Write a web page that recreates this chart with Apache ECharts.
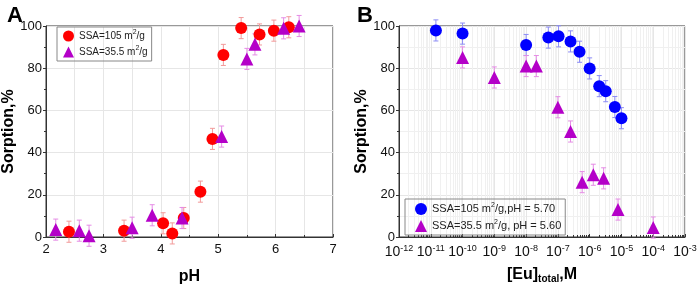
<!DOCTYPE html>
<html>
<head>
<meta charset="utf-8">
<script src="https://cdn.jsdelivr.net/npm/echarts@6/dist/echarts.min.js"></script>
<style>
  html, body { margin: 0; padding: 0; background: #fff; }
  #chart { width: 699px; height: 287px; }
</style>
</head>
<body>
<div id="chart"></div>
<script>
// panel A: sorption vs pH
var phRed = [2.40, 3.36, 4.04, 4.20, 4.40, 4.69, 4.90, 5.09, 5.40, 5.72, 5.97, 6.23];
var sorpRed = [2.5, 3, 6.5, 1.7, 9, 21.5, 46.5, 86.3, 99, 96, 97.8, 99.4];
var phPurple = [2.17, 2.58, 2.75, 3.50, 3.85, 4.37, 5.06, 5.50, 5.64, 6.14, 6.41];
var sorpPurple = [3.5, 3, 0.6, 4.4, 10.3, 9, 47.6, 84.4, 91.3, 98.9, 100];

// panel B: sorption vs [Eu]total
var euBlue = [1.45e-11, 1e-10, 1e-8, 5e-8, 1.05e-7, 2.5e-7, 4.8e-7, 1e-6, 2e-6, 3.2e-6, 6.2e-6, 1e-5];
var sorpBlue = [97.9, 96.4, 91, 94.5, 95.1, 92.7, 87.8, 79.9, 71.5, 69.1, 61.6, 56.3];
var euPurple = [1e-10, 1e-9, 1e-8, 2.1e-8, 1e-7, 2.5e-7, 5.8e-7, 1.3e-6, 2.75e-6, 7.8e-6, 1e-4];
var sorpPurpleB = [85.1, 75.6, 81, 81, 61.5, 50, 26, 29.5, 27.8, 13, 4.5];

var errSize = 5;

var myChart = echarts.init(document.getElementById('chart'));

function pairs(xs, ys) {
  return xs.map(function (x, i) { return [x, ys[i]]; });
}

// error bars drawn behind the markers
function errBars(name, xIdx, xs, ys, color) {
  return {
    name: name + '_err',
    type: 'custom',
    xAxisIndex: xIdx,
    yAxisIndex: xIdx,
    z: 1,
    silent: true,
    data: xs.map(function (x, i) { return [x, ys[i] - errSize, ys[i] + errSize]; }),
    renderItem: function (params, api) {
      var lo = api.coord([api.value(0), api.value(1)]);
      var hi = api.coord([api.value(0), api.value(2)]);
      var w = 2.5;
      var st = { stroke: color, lineWidth: 1 };
      return {
        type: 'group',
        children: [
          { type: 'line', shape: { x1: lo[0], y1: lo[1], x2: hi[0], y2: hi[1] }, style: st },
          { type: 'line', shape: { x1: lo[0] - w, y1: lo[1], x2: lo[0] + w, y2: lo[1] }, style: st },
          { type: 'line', shape: { x1: hi[0] - w, y1: hi[1], x2: hi[0] + w, y2: hi[1] }, style: st }
        ]
      };
    }
  };
}

var legendRich = {
  sup: { fontSize: 7, verticalAlign: 'top', lineHeight: 14 }
};
var nameRich = {
  sub: { fontSize: 10, fontWeight: 'bold', color: '#000', padding: [9, 0, 0, 0] }
};

var axisLine = { lineStyle: { color: '#333', width: 1 } };
var gridLine = { show: true, lineStyle: { color: '#e6e6e6', width: 1 } };
var minorGrid = { show: true, lineStyle: { color: '#f0f0f0', width: 1 } };

var option = {
  animation: false,
  textStyle: { fontFamily: 'Liberation Sans' },
  title: [
    { text: 'A', left: 2, top: 0, textStyle: { fontSize: 22, fontWeight: 'bold', color: '#000' } },
    { text: 'B', left: 352, top: 0, textStyle: { fontSize: 22, fontWeight: 'bold', color: '#000' } }
  ],
  grid: [
    { left: 46, top: 26, width: 287, height: 211, show: true, borderColor: '#333', borderWidth: 1,
      containLabel: false, outerBoundsMode: 'none' },
    { left: 399, top: 26, width: 286, height: 211, show: true, borderColor: '#333', borderWidth: 1,
      containLabel: false, outerBoundsMode: 'none' }
  ],
  legend: [
    {
      data: ['SSA=105 m{sup|2}/g', 'SSA=35.5 m{sup|2}/g'],
      left: 57, top: 27, orient: 'vertical',
      itemWidth: 11, itemHeight: 11, itemGap: 2,
      padding: [2, 4, 2, 6],
      borderColor: '#888', borderWidth: 1,
      textStyle: { fontSize: 10, lineHeight: 14, color: '#222', rich: legendRich }
    },
    {
      data: ['SSA=105 m{sup|2}/g,pH = 5.70', 'SSA=35.5 m{sup|2}/g, pH = 5.60'],
      left: 405, top: 199, orient: 'vertical',
      itemWidth: 12, itemHeight: 12, itemGap: 3,
      padding: [3, 4, 2, 10],
      borderColor: '#888', borderWidth: 1,
      textStyle: { fontSize: 11, lineHeight: 14, color: '#222', rich: legendRich }
    }
  ],
  xAxis: [
    {
      gridIndex: 0, type: 'value', min: 2, max: 7, interval: 1,
      name: 'pH', nameLocation: 'middle', nameGap: 32,
      nameTextStyle: { fontSize: 16, fontWeight: 'bold', color: '#000' },
      axisLine: axisLine,
      axisTick: { inside: true, length: 3, lineStyle: { color: '#333' } },
      minorTick: { show: true, splitNumber: 2, length: 2, lineStyle: { color: '#333' } },
      minorSplitLine: gridLine,
      axisLabel: { fontSize: 13, color: '#111', margin: 6 },
      splitLine: gridLine
    },
    {
      gridIndex: 1, type: 'log', min: 1e-12, max: 1e-3, logBase: 10,
      name: '[Eu]{sub|total},M', nameLocation: 'middle', nameGap: 28,
      nameTextStyle: { fontSize: 16, fontWeight: 'bold', color: '#000', rich: nameRich },
      axisLine: axisLine,
      axisTick: { inside: true, length: 3, lineStyle: { color: '#333' } },
      minorTick: { show: true, splitNumber: 9, length: 2, lineStyle: { color: '#333' } },
      minorSplitLine: minorGrid,
      axisLabel: {
        fontSize: 14, color: '#111', margin: 7,
        formatter: function (v) {
          var e = Math.round(Math.log10(v));
          return '10{sup|' + e + '}';
        },
        rich: { sup: { fontSize: 9, verticalAlign: 'top', lineHeight: 16 } }
      },
      splitLine: gridLine
    }
  ],
  yAxis: [
    {
      gridIndex: 0, type: 'value', min: 0, max: 100, interval: 20,
      name: 'Sorption,%', nameLocation: 'middle', nameGap: 26,
      nameTextStyle: { fontSize: 16, fontWeight: 'bold', color: '#000' },
      axisLine: axisLine,
      axisTick: { inside: false, length: 3, lineStyle: { color: '#333' } },
      minorTick: { show: true, splitNumber: 2, length: 2, lineStyle: { color: '#333' } },
      axisLabel: { fontSize: 13, color: '#111', margin: 4 },
      splitLine: gridLine
    },
    {
      gridIndex: 1, type: 'value', min: 0, max: 100, interval: 20,
      name: 'Sorption,%', nameLocation: 'middle', nameGap: 27,
      nameTextStyle: { fontSize: 16, fontWeight: 'bold', color: '#000' },
      axisLine: axisLine,
      axisTick: { inside: false, length: 3, lineStyle: { color: '#333' } },
      minorTick: { show: true, splitNumber: 2, length: 2, lineStyle: { color: '#333' } },
      minorSplitLine: minorGrid,
      axisLabel: { fontSize: 13, color: '#111', margin: 4 },
      splitLine: gridLine
    }
  ],
  series: [
    errBars('red', 0, phRed, sorpRed, '#f29a9a'),
    errBars('purple', 0, phPurple, sorpPurple, '#e58ce5'),
    {
      name: 'SSA=105 m{sup|2}/g', type: 'scatter', xAxisIndex: 0, yAxisIndex: 0,
      symbol: 'circle', symbolSize: 12, z: 3,
      itemStyle: { color: '#ff0000', opacity: 1 },
      data: pairs(phRed, sorpRed)
    },
    {
      name: 'SSA=35.5 m{sup|2}/g', type: 'scatter', xAxisIndex: 0, yAxisIndex: 0,
      symbol: 'triangle', symbolSize: 13, z: 3,
      itemStyle: { color: '#b400c8', opacity: 1 },
      data: pairs(phPurple, sorpPurple)
    },
    errBars('blue', 1, euBlue, sorpBlue, '#8c8cf5'),
    errBars('purpleB', 1, euPurple, sorpPurpleB, '#e58ce5'),
    {
      name: 'SSA=105 m{sup|2}/g,pH = 5.70', type: 'scatter', xAxisIndex: 1, yAxisIndex: 1,
      symbol: 'circle', symbolSize: 12, z: 3,
      itemStyle: { color: '#0000ff', opacity: 1 },
      data: pairs(euBlue, sorpBlue)
    },
    {
      name: 'SSA=35.5 m{sup|2}/g, pH = 5.60', type: 'scatter', xAxisIndex: 1, yAxisIndex: 1,
      symbol: 'triangle', symbolSize: 13, z: 3,
      itemStyle: { color: '#b400c8', opacity: 1 },
      data: pairs(euPurple, sorpPurpleB)
    }
  ]
};

myChart.setOption(option);
</script>
</body>
</html>
